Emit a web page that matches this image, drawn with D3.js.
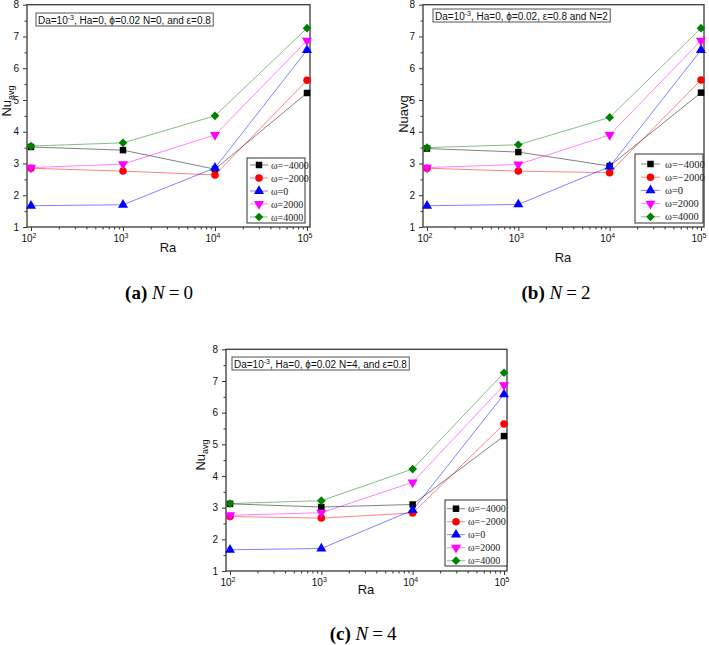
<!DOCTYPE html>
<html>
<head>
<meta charset="utf-8">
<script src="https://cdn.jsdelivr.net/npm/d3@7"></script>
<style>
  html, body { margin: 0; padding: 0; background: #fff; }
  svg { display: block; }
</style>
</head>
<body>
<svg id="chart" width="709" height="645"></svg>
<script>
// ---------------- DATA ----------------
const RA = [1e2, 1e3, 1e4, 1e5];
const X_TICKS = [1e2, 1e3, 1e4, 1e5];
const X_TICK_EXP = ["2", "3", "4", "5"];
const Y_TICKS = [1, 2, 3, 4, 5, 6, 7, 8];
const SERIES_LABELS = ["ω=−4000", "ω=−2000", "ω=0", "ω=2000", "ω=4000"];

// (a) N = 0
const nuA_m4000 = [3.52, 3.42, 2.82, 5.22];
const nuA_m2000 = [2.85, 2.76, 2.64, 5.62];
const nuA_0     = [1.67, 1.70, 2.86, 6.57];
const nuA_2000  = [2.87, 2.98, 3.90, 6.87];
const nuA_4000  = [3.55, 3.65, 4.50, 7.26];
// (b) N = 2
const nuB_m4000 = [3.47, 3.36, 2.92, 5.23];
const nuB_m2000 = [2.85, 2.76, 2.71, 5.63];
const nuB_0     = [1.67, 1.71, 2.90, 6.57];
const nuB_2000  = [2.87, 2.97, 3.90, 6.87];
const nuB_4000  = [3.50, 3.59, 4.45, 7.26];
// (c) N = 4
const nuC_m4000 = [3.12, 3.02, 3.10, 5.26];
const nuC_m2000 = [2.72, 2.67, 2.83, 5.64];
const nuC_0     = [1.67, 1.71, 2.92, 6.58];
const nuC_2000  = [2.76, 2.84, 3.80, 6.87];
const nuC_4000  = [3.13, 3.22, 4.22, 7.26];

const ANNOT_A = ["Da=10", "-3", ", Ha=0, ϕ=0.02 N=0, and ε=0.8"];
const ANNOT_B = ["Da=10", "-3", ", Ha=0, ϕ=0.02, ε=0.8 and N=2"];
const ANNOT_C = ["Da=10", "-3", ", Ha=0, ϕ=0.02 N=4, and ε=0.8"];
const CAPTIONS = [["(a)", "N", "0"], ["(b)", "N", "2"], ["(c)", "N", "4"]];

// ---------------- STYLE ----------------
const COLORS = ["#000000", "#ff0000", "#0000ff", "#ff00ff", "#008000"];
const SYMBOLS = [
  { type: d3.symbolSquare, size: 42, rot: 0 },
  { type: d3.symbolCircle, size: 44, rot: 0 },
  { type: d3.symbolTriangle, size: 44, rot: 0 },
  { type: d3.symbolTriangle, size: 44, rot: 180 },
  { type: d3.symbolSquare, size: 38, rot: 45 }
];

const svg = d3.select("#chart");

function drawPanel(p) {
  const g = svg.append("g");
  const x = d3.scaleLog().domain([1e2, 1e5]).range([p.x0 + 4, p.x1 - 3]);
  const y = d3.scaleLinear().domain([1, 8]).range([p.yBot, p.yTop]);

  // y axis
  const ya = g.append("g").attr("transform", `translate(${p.x0},0)`)
    .call(d3.axisLeft(y).tickValues(Y_TICKS).tickSize(4).tickPadding(4).tickFormat(d3.format("d")));
  ya.select(".domain").remove();
  ya.selectAll("text").attr("font-family", "Arial, 'Liberation Sans', sans-serif").attr("font-size", 10).attr("fill", "#111");
  ya.selectAll("line").attr("stroke", "#333");
  const yMinor = d3.range(1.5, 8, 1);
  const ym = g.append("g").attr("transform", `translate(${p.x0},0)`)
    .call(d3.axisLeft(y).tickValues(yMinor).tickSize(2.5).tickFormat(""));
  ym.select(".domain").remove();
  ym.selectAll("line").attr("stroke", "#333");

  // x axis
  const xa = g.append("g").attr("transform", `translate(0,${p.yBot})`)
    .call(d3.axisBottom(x).tickValues(X_TICKS).tickSize(4).tickFormat(""));
  xa.select(".domain").remove();
  xa.selectAll("line").attr("stroke", "#333");
  const xMinor = [];
  [1e2, 1e3, 1e4].forEach(dec => { for (let k = 2; k <= 9; k++) xMinor.push(dec * k); });
  const xm = g.append("g").attr("transform", `translate(0,${p.yBot})`)
    .call(d3.axisBottom(x).tickValues(xMinor).tickSize(2.5).tickFormat(""));
  xm.select(".domain").remove();
  xm.selectAll("line").attr("stroke", "#333");
  X_TICKS.forEach((t, i) => {
    const tx = g.append("text")
      .attr("x", x(t) - 2).attr("y", p.yBot + 15)
      .attr("text-anchor", "middle")
      .attr("font-family", "Arial, 'Liberation Sans', sans-serif")
      .attr("font-size", 10).attr("fill", "#111");
    tx.append("tspan").text("10");
    tx.append("tspan").attr("font-size", 7).attr("dy", -4).text(X_TICK_EXP[i]);
  });

  // frame
  g.append("rect").attr("x", p.x0).attr("y", p.yTop)
    .attr("width", p.x1 - p.x0).attr("height", p.yBot - p.yTop)
    .attr("fill", "none").attr("stroke", "#3a3a3a").attr("stroke-width", 1.3);

  // axis titles
  g.append("text").attr("x", p.xLab.x).attr("y", p.xLab.y)
    .attr("text-anchor", "middle")
    .attr("font-family", "Arial, 'Liberation Sans', sans-serif")
    .attr("font-size", 13).attr("fill", "#111").text("Ra");
  const yl = g.append("text")
    .attr("transform", `translate(${p.yLab.x},${p.yLab.y}) rotate(-90)`)
    .attr("text-anchor", "middle")
    .attr("font-family", "Arial, 'Liberation Sans', sans-serif")
    .attr("font-size", 13).attr("fill", "#111");
  if (p.ySub) {
    yl.append("tspan").text("Nu");
    yl.append("tspan").attr("font-size", 9).attr("dy", 3).text("avg");
  } else {
    yl.text("Nuavg");
  }

  // series
  p.series.forEach((vals, si) => {
    const pts = RA.map((r, i) => [x(r), y(vals[i])]);
    g.append("path").attr("d", d3.line()(pts))
      .attr("fill", "none").attr("stroke", COLORS[si])
      .attr("stroke-opacity", 0.55).attr("stroke-width", 0.9);
    const sym = SYMBOLS[si];
    g.selectAll(null).data(pts).enter().append("path")
      .attr("d", d3.symbol().type(sym.type).size(sym.size)())
      .attr("transform", d => `translate(${d[0]},${d[1]}) rotate(${sym.rot})`)
      .attr("fill", COLORS[si]);
  });

  // annotation box
  const at = g.append("text")
    .attr("x", p.ann.x + 2).attr("y", p.ann.y + 10.5)
    .attr("font-family", "Arial, 'Liberation Sans', sans-serif")
    .attr("font-size", 10).attr("fill", "#111");
  at.append("tspan").text(p.annText[0]);
  at.append("tspan").attr("font-size", 7).attr("dy", -4).text(p.annText[1]);
  at.append("tspan").attr("dy", 4).text(p.annText[2]);
  const bb = at.node().getBBox();
  g.append("rect")
    .attr("x", p.ann.x).attr("y", p.ann.y)
    .attr("width", bb.width + 4).attr("height", 13)
    .attr("fill", "none").attr("stroke", "#555").attr("stroke-width", 1);

  // legend
  const L = p.leg;
  g.append("rect").attr("x", L.x).attr("y", L.y).attr("width", L.w).attr("height", L.h)
    .attr("fill", "#fff").attr("stroke", "#333").attr("stroke-width", 1);
  SERIES_LABELS.forEach((lab, si) => {
    const ry = L.y + L.first + si * L.step;
    g.append("line").attr("x1", L.x + L.l0).attr("x2", L.x + L.l1)
      .attr("y1", ry).attr("y2", ry)
      .attr("stroke", COLORS[si]).attr("stroke-opacity", 0.55).attr("stroke-width", 0.9);
    const sym = SYMBOLS[si];
    g.append("path").attr("d", d3.symbol().type(sym.type).size(sym.size)())
      .attr("transform", `translate(${L.x + (L.l0 + L.l1) / 2},${ry}) rotate(${sym.rot})`)
      .attr("fill", COLORS[si]);
    g.append("text").attr("x", L.x + L.tx).attr("y", ry + 3.5)
      .attr("font-family", "'Liberation Serif', 'DejaVu Serif', serif")
      .attr("font-size", L.fs).attr("fill", "#222").text(lab);
  });
}

drawPanel({
  x0: 27, x1: 310, yTop: 4.7, yBot: 227,
  series: [nuA_m4000, nuA_m2000, nuA_0, nuA_2000, nuA_4000],
  annText: ANNOT_A, ann: { x: 36, y: 13 },
  leg: { x: 247, y: 158, w: 58, h: 65, first: 7, step: 13, l0: 3, l1: 21, tx: 24, fs: 10 },
  xLab: { x: 168, y: 252 }, yLab: { x: 11, y: 101 }, ySub: true
});
drawPanel({
  x0: 423, x1: 704, yTop: 4.7, yBot: 227,
  series: [nuB_m4000, nuB_m2000, nuB_0, nuB_2000, nuB_4000],
  annText: ANNOT_B, ann: { x: 433, y: 9 },
  leg: { x: 635, y: 154, w: 68, h: 69, first: 10, step: 13.2, l0: 6, l1: 25, tx: 30, fs: 10.5 },
  xLab: { x: 563, y: 262 }, yLab: { x: 408, y: 114 }, ySub: false
});
drawPanel({
  x0: 226, x1: 507, yTop: 349.3, yBot: 571,
  series: [nuC_m4000, nuC_m2000, nuC_0, nuC_2000, nuC_4000],
  annText: ANNOT_C, ann: { x: 232, y: 357 },
  leg: { x: 445, y: 500, w: 62, h: 66, first: 8.7, step: 13, l0: 2, l1: 20, tx: 23, fs: 10 },
  xLab: { x: 366, y: 594 }, yLab: { x: 205, y: 455 }, ySub: true
});

// captions
const capPos = [[159, 299], [556, 299], [363, 640]];
CAPTIONS.forEach((c, i) => {
  const t = svg.append("text").attr("x", capPos[i][0]).attr("y", capPos[i][1])
    .attr("text-anchor", "middle")
    .attr("font-family", "'Liberation Serif', 'Times New Roman', serif")
    .attr("font-size", 19).attr("fill", "#000");
  t.append("tspan").attr("font-weight", "bold").text(c[0] + " ");
  t.append("tspan").attr("font-style", "italic").text(c[1]);
  t.append("tspan").attr("dx", 4).text("=");
  t.append("tspan").attr("dx", 4).text(c[2]);
});
</script>
</body>
</html>
